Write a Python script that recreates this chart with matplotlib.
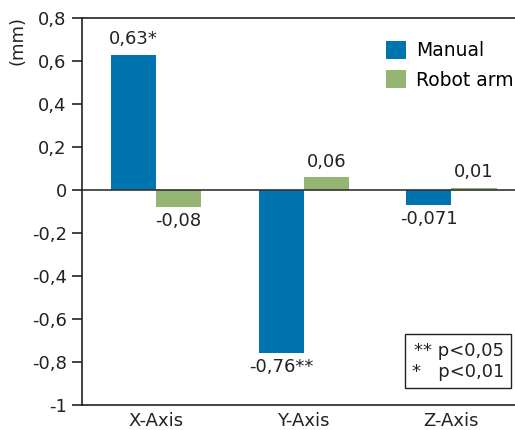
import numpy as np
import matplotlib.pyplot as plt

categories = ['X-Axis', 'Y-Axis', 'Z-Axis']
manual = [0.63, -0.76, -0.071]
robot = [-0.08, 0.06, 0.01]
manual_labels = ['0,63*', '-0,76**', '-0,071']
robot_labels = ['-0,08', '0,06', '0,01']
y_ticks = [0.8, 0.6, 0.4, 0.2, 0, -0.2, -0.4, -0.6, -0.8, -1]
y_tick_labels = ['0,8', '0,6', '0,4', '0,2', '0', '-0,2', '-0,4', '-0,6', '-0,8', '-1']

_BLUE = '#0074AF'
_GREEN = '#95B573'
_TXT = '#222222'
_FS = 13

plt.rcParams['font.family'] = ['DejaVu Sans']
fig = plt.figure(figsize=(5.15, 4.3), dpi=100)
ax = fig.add_axes([82 / 515, 1 - 405 / 430, (515 - 82) / 515, (405 - 18) / 430])

x = np.arange(len(categories))
w = 0.305
b1 = ax.bar(x - w / 2, manual, w, color=_BLUE, label='Manual')
b2 = ax.bar(x + w / 2, robot, w, color=_GREEN, label='Robot arm')


def put_labels(bars, labels, vals):
    for rect, lab, v in zip(bars, labels, vals):
        cx = rect.get_x() + rect.get_width() / 2
        if v >= 0:
            ax.text(cx, v + 0.03, lab, ha='center', va='bottom', fontsize=_FS, color=_TXT)
        else:
            ax.text(cx, v - 0.02, lab, ha='center', va='top', fontsize=_FS, color=_TXT)


put_labels(b1, manual_labels, manual)
put_labels(b2, robot_labels, robot)

ax.axhline(0, color='#333333', linewidth=1.2, zorder=3)
ax.set_xlim(-0.5, 2.43)
ax.set_ylim(-1, 0.8)
ax.set_yticks(y_ticks)
ax.set_yticklabels(y_tick_labels)
ax.set_xticks(x)
ax.set_xticklabels(categories)
ax.tick_params(axis='y', direction='out', length=7, width=1.2, labelsize=_FS, colors=_TXT, pad=4)
ax.tick_params(axis='x', length=0, labelsize=_FS, colors=_TXT, pad=5)
ax.spines['right'].set_visible(False)
for s in ['left', 'top', 'bottom']:
    ax.spines[s].set_linewidth(1.2)
    ax.spines[s].set_color('#222222')

fig.text(17 / 515, 1 - 16 / 430, '(mm)', rotation=90, ha='center', va='top', fontsize=_FS, color=_TXT)

ax.legend(loc='upper right', bbox_to_anchor=(1.035, 0.985), frameon=False, fontsize=_FS + 0.5,
          handlelength=1.1, handleheight=1.1, handletextpad=0.5, labelspacing=0.55)

ax.text(0.975, 0.062, '** p<0,05\n*   p<0,01', transform=ax.transAxes, ha='right', va='bottom',
        fontsize=_FS, color=_TXT, linespacing=1.25,
        bbox=dict(boxstyle='square,pad=0.4', facecolor='white', edgecolor='#222222', linewidth=1.0))

fig.savefig('out.png', dpi=100)
